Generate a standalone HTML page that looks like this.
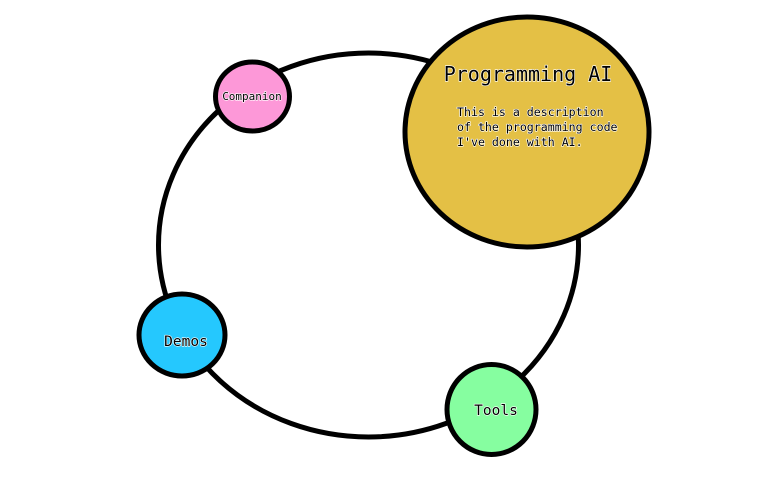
<!DOCTYPE html>
<html><head><meta charset="utf-8"><style>
html,body{margin:0;padding:0;background:#fff;width:774px;height:493px;overflow:hidden}
svg text{font-family:"DejaVu Sans Mono","Liberation Mono",monospace;fill:#000;paint-order:stroke;stroke:#fff;stroke-width:1.2px}
</style></head><body>
<svg width="774" height="493" viewBox="0 0 774 493" xmlns="http://www.w3.org/2000/svg">
<ellipse cx="368.5" cy="245" rx="210" ry="192" fill="none" stroke="#000" stroke-width="5"/>
<ellipse cx="527" cy="132" rx="122" ry="115" fill="#e4c045" stroke="#000" stroke-width="5"/>
<ellipse cx="252.5" cy="96.5" rx="37" ry="34.5" fill="#fd98d8" stroke="#000" stroke-width="5"/>
<ellipse cx="182" cy="335" rx="43" ry="41" fill="#25c8fe" stroke="#000" stroke-width="5"/>
<ellipse cx="491.5" cy="409.5" rx="44.5" ry="45" fill="#86fea0" stroke="#000" stroke-width="5"/>
<text x="528" y="81" font-size="20" text-anchor="middle">Programming AI</text>
<text x="457" y="116" font-size="11.6">This is a description</text>
<text x="457" y="131" font-size="11.6">of the programming code</text>
<text x="457" y="146" font-size="11.6">I've done with AI.</text>
<text x="252" y="100" font-size="11" text-anchor="middle">Companion</text>
<text x="186" y="346" font-size="14.5" text-anchor="middle">Demos</text>
<text x="496" y="415" font-size="14.5" text-anchor="middle">Tools</text>
</svg>
</body></html>
